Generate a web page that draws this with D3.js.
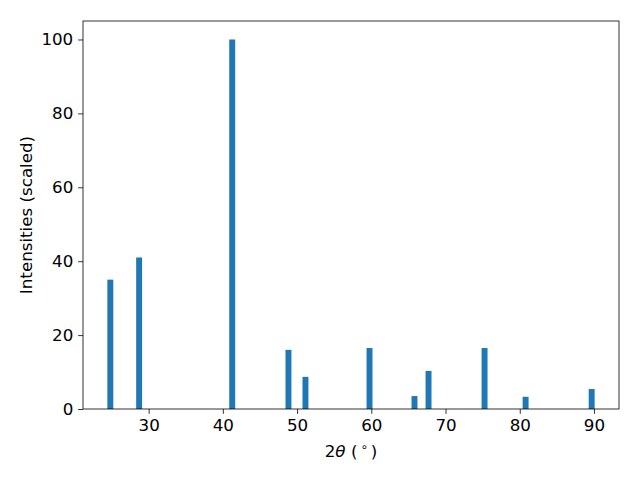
<!DOCTYPE html>
<html>
<head>
<meta charset="utf-8">
<script src="https://cdn.jsdelivr.net/npm/d3@7"></script>
<style>
  body { margin: 0; background: #fff; }
  svg { font-family: 'DejaVu Sans', sans-serif; }
</style>
</head>
<body>
<div id="chart"></div>
<script>
const twoTheta = [24.84, 28.72, 41.26, 48.84, 51.13, 59.76, 65.82, 67.71, 75.26, 80.79, 89.69]
const intensity = [35.0, 41.0, 100, 16.0, 8.7, 16.5, 3.5, 10.3, 16.5, 3.3, 5.4]
const xTicks = [30, 40, 50, 60, 70, 80, 90]
const yTicks = [0, 20, 40, 60, 80, 100]
const barWidth = 0.8

const W = 640, H = 480
const margin = { top: 21, right: 21, bottom: 71, left: 83 }
const width = W - margin.left - margin.right
const height = H - margin.top - margin.bottom
const fs = '16.7px'

const svg = d3.select('#chart')
    .append('svg')
    .attr('width', W)
    .attr('height', H)

const g = svg.append('g')
    .attr('transform', `translate(${margin.left}, ${margin.top})`)

// matplotlib-style 5% margins
const lo = d3.min(twoTheta) - barWidth / 2
const hi = d3.max(twoTheta) + barWidth / 2
const pad = (hi - lo) * 0.05

const x = d3.scaleLinear()
    .domain([lo - pad, hi + pad])
    .range([0, width])

const y = d3.scaleLinear()
    .domain([0, 105])
    .range([height, 0])

g.selectAll('rect.bar')
    .data(twoTheta)
    .enter()
    .append('rect')
    .attr('class', 'bar')
    .attr('x', d => x(d - barWidth / 2))
    .attr('width', d => x(d + barWidth / 2) - x(d - barWidth / 2))
    .attr('y', (d, i) => y(intensity[i]))
    .attr('height', (d, i) => y(0) - y(intensity[i]))
    .attr('fill', '#1f77b4')

const xAxis = g.append('g')
    .attr('transform', `translate(0, ${height})`)
    .call(d3.axisBottom(x).tickValues(xTicks).tickSize(4.86).tickPadding(4.9).tickSizeOuter(0))

const yAxis = g.append('g')
    .call(d3.axisLeft(y).tickValues(yTicks).tickSize(4.86).tickPadding(4.9).tickSizeOuter(0))

;[xAxis, yAxis].forEach(a => {
    a.attr('font-size', null).attr('font-family', null)
    a.select('.domain').remove()
    a.selectAll('line').attr('stroke', '#000').attr('stroke-width', 0.8)
    a.selectAll('text')
        .attr('fill', '#000')
        .style('font-size', fs)
        .style('font-family', "'DejaVu Sans', sans-serif")
})

// frame
g.append('rect')
    .attr('width', width)
    .attr('height', height)
    .attr('fill', 'none')
    .attr('stroke', '#000')
    .attr('stroke-width', 0.8)

// x label: 2θ (°)
const xl = svg.append('text')
    .attr('x', margin.left + width / 2)
    .attr('y', 457)
    .attr('text-anchor', 'middle')
    .style('font-size', fs)
    .attr('fill', '#000')
xl.append('tspan').text('2')
xl.append('tspan').style('font-style', 'italic').text('θ')
xl.append('tspan').text(' (')
xl.append('tspan').attr('dx', 3).attr('dy', -6).style('font-size', '11.7px').text('∘')
xl.append('tspan').attr('dx', 3).attr('dy', 6).text(')')

svg.append('text')
    .attr('transform', `translate(32, ${margin.top + height / 2}) rotate(-90)`)
    .attr('text-anchor', 'middle')
    .style('font-size', fs)
    .attr('fill', '#000')
    .text('Intensities (scaled)')
</script>
</body>
</html>
